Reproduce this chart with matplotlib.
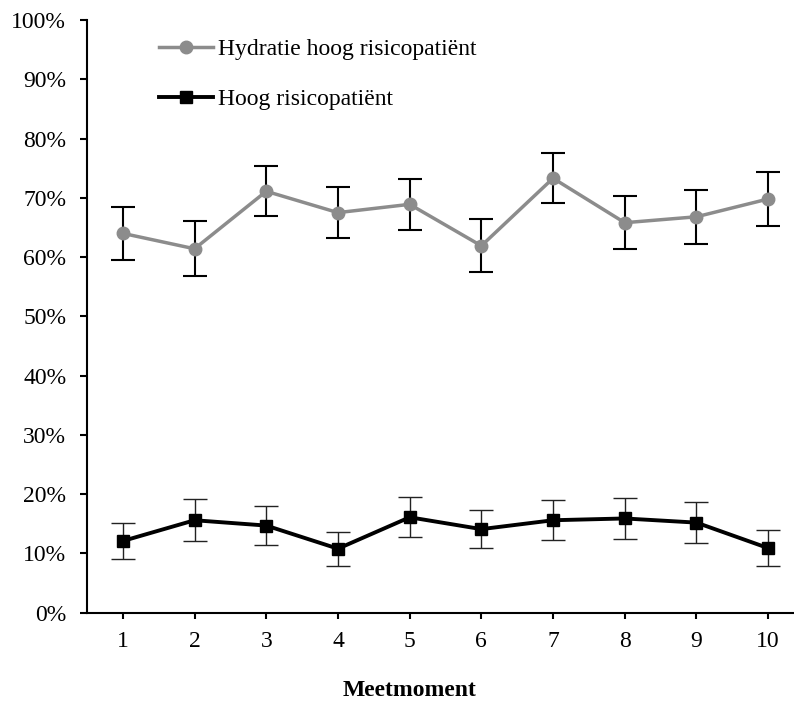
import matplotlib
matplotlib.use("Agg")
import matplotlib.pyplot as plt
from matplotlib.ticker import FuncFormatter

plt.rcParams['font.family'] = ['Liberation Serif', 'DejaVu Serif']

moments = [1, 2, 3, 4, 5, 6, 7, 8, 9, 10]

hydratie = [64.0, 61.4, 71.1, 67.5, 68.9, 61.9, 73.3, 65.8, 66.8, 69.8]
hydratie_err = [4.5, 4.65, 4.2, 4.35, 4.3, 4.5, 4.2, 4.5, 4.55, 4.55]

hoog = [12.1, 15.6, 14.7, 10.8, 16.1, 14.1, 15.6, 15.9, 15.2, 10.9]
hoog_err = [3.1, 3.5, 3.3, 2.85, 3.4, 3.2, 3.4, 3.5, 3.5, 3.1]

labels = ["Hydratie hoog risicopatiënt", "Hoog risicopatiënt"]
yticks = [0, 10, 20, 30, 40, 50, 60, 70, 80, 90, 100]

FS = 17.0
W, H = 794, 705
fig = plt.figure(figsize=(W / 100, H / 100), dpi=100)
left, right, top, bottom = 87, 804, 20, 612.7
ax = fig.add_axes([left / W, 1 - bottom / H, (right - left) / W, (bottom - top) / H])

# error bars underneath the series lines
ax.errorbar(moments, hydratie, yerr=hydratie_err, fmt='none', ecolor='black',
            elinewidth=1.5, capsize=8.5, capthick=1.5, zorder=2)
ax.errorbar(moments, hoog, yerr=hoog_err, fmt='none', ecolor='#222222',
            elinewidth=1.0, capsize=8.5, capthick=1.0, zorder=2)

ax.plot(moments, hydratie, color='#8c8c8c', lw=2.5, marker='o', ms=9,
        mfc='#8c8c8c', mec='#8c8c8c', label=labels[0], zorder=3)
ax.plot(moments, hoog, color='black', lw=2.8, marker='s', ms=8.5,
        mfc='black', mec='black', label=labels[1], zorder=3)

ax.set_xlim(0.5, 10.5)
ax.set_ylim(0, 100)
ax.set_xticks(moments)
ax.set_yticks(yticks)
ax.yaxis.set_major_formatter(FuncFormatter(lambda v, p: f"{int(v)}%"))

for s in ['top', 'right']:
    ax.spines[s].set_visible(False)
for s in ['left', 'bottom']:
    ax.spines[s].set_linewidth(1.5)

ax.tick_params(axis='y', direction='out', length=5, width=1.5, pad=10, labelsize=FS)
ax.tick_params(axis='x', direction='out', length=4, width=1.5, pad=9, labelsize=FS)

leg = ax.legend(loc='upper left', bbox_to_anchor=(0.087, 0.985), frameon=False,
                fontsize=FS, handlelength=2.3, handletextpad=0.2,
                labelspacing=1.22, borderaxespad=0)

fig.text(410 / W, 1 - 691 / H, "Meetmoment", ha='center', va='center',
         fontsize=FS, fontweight='bold')

fig.savefig("out.png", dpi=100)
